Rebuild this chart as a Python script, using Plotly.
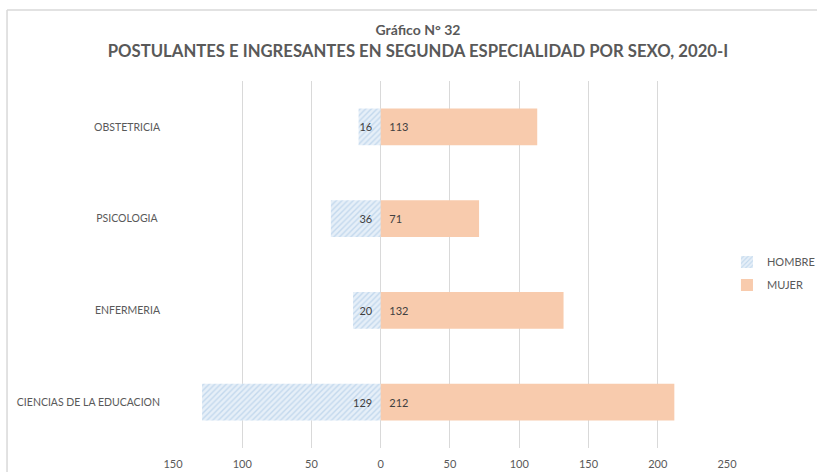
import plotly.graph_objects as go

carreras = ['CIENCIAS DE LA EDUCACION', 'ENFERMERIA', 'PSICOLOGIA ', 'OBSTETRICIA']
hombre = [129, 20, 36, 16]
mujer = [212, 132, 71, 113]

tick_vals = [-150, -100, -50, 0, 50, 100, 150, 200, 250]
tick_text = ['150', '100', '50', '0', '50', '100', '150', '200', '250']

FONT = 'Lato'
GRIS = '#595959'

fig = go.Figure()
fig.add_trace(go.Bar(
    name='HOMBRE', y=carreras, x=[-v for v in hombre], orientation='h',
    legendgroup='h',
    text=[str(v) for v in hombre], texttemplate='%{text}\u2002',
    textposition='inside', insidetextanchor='start',
    constraintext='none', textangle=0,
    textfont=dict(family=FONT, size=11, color='#404040'),
    marker=dict(color='#dce9f5', line=dict(width=0),
                pattern=dict(shape='/', fgcolor='#9fc2e2', bgcolor='#e6eff8', size=4, solidity=0.35)),
))
fig.add_trace(go.Bar(
    name='MUJER', y=carreras, x=mujer, orientation='h',
    legendgroup='m',
    text=[str(v) for v in mujer], texttemplate='\u2002%{text}',
    textposition='inside', insidetextanchor='start',
    constraintext='none', textangle=0,
    textfont=dict(family=FONT, size=11, color='#404040'),
    marker=dict(color='#f8cbad', line=dict(width=0)),
))

fig.update_layout(
    width=817, height=472,
    paper_bgcolor='white', plot_bgcolor='white',
    margin=dict(l=173, r=90, t=81, b=24),
    barmode='relative', bargap=0.6,
    font=dict(family=FONT, color=GRIS, size=11),
    title=dict(
        text='<span style="font-size:14px"><b>Gráfico N° 32</b></span><br>'
             '<b>POSTULANTES E INGRESANTES EN SEGUNDA ESPECIALIDAD POR SEXO, 2020-I</b>',
        x=0.5116, xanchor='center', xref='container', y=0.925, yanchor='top',
        font=dict(family=FONT, size=16.7, color=GRIS),
    ),
    xaxis=dict(range=[-150, 250], tickvals=tick_vals, ticktext=tick_text,
               showgrid=True, gridcolor='#d9d9d9', gridwidth=1, zeroline=False,
               showline=False, automargin=False,
               ticks='outside', ticklen=6, tickcolor='rgba(0,0,0,0)',
               tickfont=dict(size=11, color=GRIS), fixedrange=True),
    yaxis=dict(showgrid=False, zeroline=False, showline=False, automargin=False,
               ticklabelstandoff=12, tickfont=dict(size=10.5, color=GRIS)),
    legend=dict(xref='container', yref='container', x=0.8898, y=0.4206,
                xanchor='left', yanchor='middle',
                font=dict(size=11, color=GRIS), traceorder='grouped',
                itemwidth=30, tracegroupgap=4),
    showlegend=True,
    shapes=[
        dict(type='line', xref='paper', yref='paper', x0=-0.2996, x1=1.2, y0=1.1935, y1=1.1935,
             line=dict(color='#d9d9d9', width=1.5)),
        dict(type='line', xref='paper', yref='paper', x0=-0.2996, x1=-0.2996, y0=1.1935, y1=-0.1,
             line=dict(color='#d9d9d9', width=1.5)),
    ],
)

# sin el margen de 8px del body la figura ocupa la ventana entera
fig.write_html('out.html', config={'displayModeBar': False},
               post_script="document.body.style.margin='0';document.body.style.overflow='hidden';")
